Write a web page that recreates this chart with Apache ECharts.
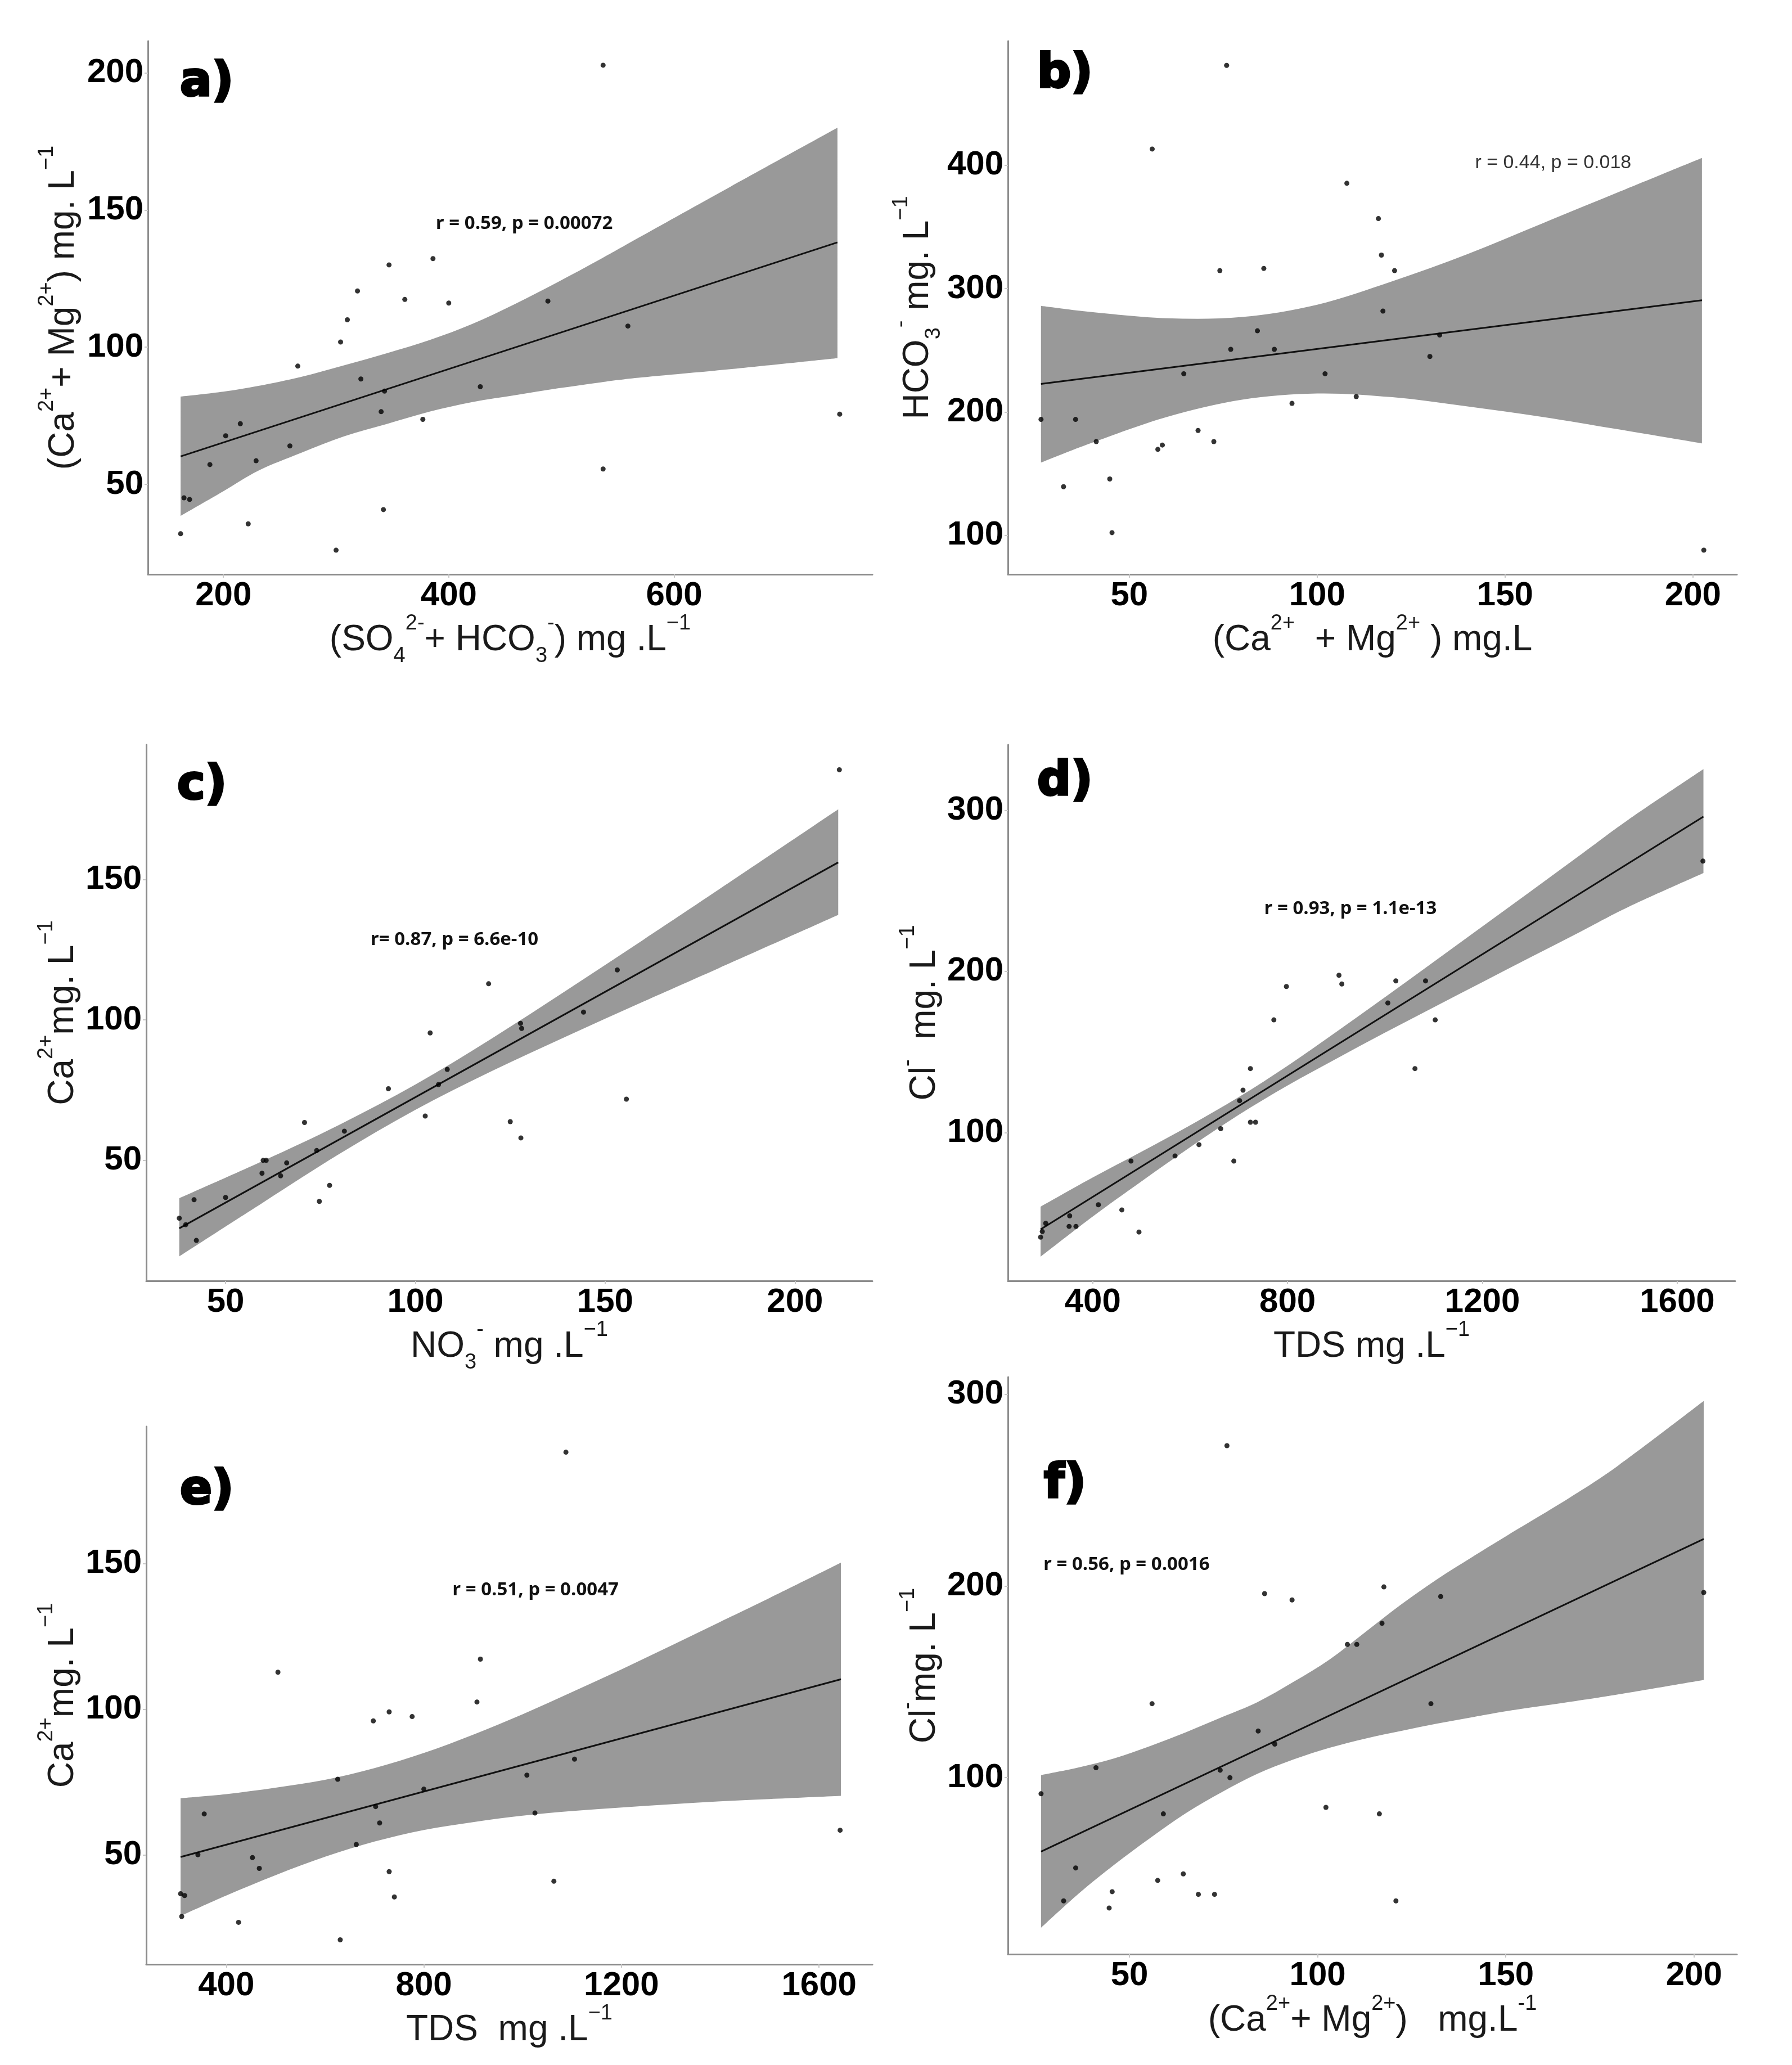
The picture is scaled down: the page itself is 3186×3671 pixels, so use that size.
<!DOCTYPE html>
<html>
<head>
  <meta charset="UTF-8">
  <title>Hydrochemistry scatter panels</title>
  <style>
    html, body { margin: 0; padding: 0; background: #fff; }
    #chart { width: 3186px; height: 3671px; }
  </style>
  <script src="https://cdn.jsdelivr.net/npm/echarts/dist/echarts.min.js"></script>
</head>
<body>
  <div id="chart"></div>
  <script>
    // ---- panel a : (SO4 + HCO3) vs (Ca + Mg)
    var aX = [537, 386, 347, 319, 361, 400, 488, 310, 559, 304, 266, 322, 428, 343, 340, 377, 747, 215, 202, 259, 188, 229, 537, 165, 170, 342, 222, 162, 300];
    var aY = [202.8, 132.3, 130, 120.5, 117.4, 116.1, 116.8, 110, 107.7, 101.9, 93.1, 88.4, 85.6, 84, 76.5, 73.7, 75.6, 72.1, 67.7, 64, 57.2, 58.6, 55.6, 45.1, 44.5, 40.8, 35.6, 32, 26];
    var aFitX = [162, 745];
    var aFitY = [60.2, 138.2];
    var aBandX = [162, 200, 231, 269, 307, 345, 383, 421, 459, 497, 535, 572, 650, 745];
    var aBandUp = [82, 83.8, 85.9, 89.2, 93.4, 97.8, 102.6, 108.5, 115.8, 123.8, 132.2, 140.7, 158.5, 180];
    var aBandLo = [38.5, 47.5, 55, 61.5, 67.5, 72, 76.5, 80, 82.5, 85, 87.2, 89, 92, 96];

    // ---- panel b : (Ca + Mg) vs HCO3
    var bX = [75.9, 56.1, 107.9, 116.3, 117.1, 74.1, 85.8, 120.6, 117.5, 84.1, 77, 88.6, 132.6, 130, 64.5, 102.1, 110.4, 93.3, 26.5, 35.7, 68.3, 41.2, 72.5, 57.6, 58.8, 44.8, 32.5, 45.4, 202.9];
    var bY = [481, 413.2, 385.4, 356.8, 327.2, 314.6, 316.4, 314.6, 281.8, 265.8, 250.8, 250.8, 262.4, 245, 231, 231, 212.5, 207, 194, 194, 185, 176, 176, 169.7, 173.2, 145.7, 139.4, 102.2, 88];
    var bFitX = [26.5, 202.4];
    var bFitY = [222.8, 290.6];
    var bBandX = [26.5, 40, 60, 80, 100, 120, 140, 160, 180, 202.4];
    var bBandUp = [286, 281, 276, 277, 287, 306, 328, 353, 378, 406];
    var bBandLo = [159, 175, 196, 210, 215, 212, 204.5, 196, 186, 174.5];

    // ---- panel c : NO3 vs Ca
    var cX = [211.7, 153.2, 119.3, 144.3, 127.7, 128, 103.9, 108.4, 106.1, 92.9, 155.6, 102.6, 70.8, 125, 81.3, 127.8, 74, 59.9, 60.7, 66.1, 59.6, 64.5, 77.4, 50, 41.7, 74.7, 37.8, 39.5, 42.3];
    var cY = [189.1, 117.8, 112.9, 102.8, 98.8, 97, 95.4, 82.4, 77, 75.5, 71.8, 65.8, 63.5, 63.8, 60.4, 58, 53.5, 50, 50, 49.1, 45.4, 44.5, 41.1, 36.8, 36, 35.4, 29.4, 27.1, 21.5];
    var cFitX = [37.8, 211.4];
    var cFitY = [25.8, 156.1];
    var cBandX = [37.8, 60, 80, 100, 120, 140, 160, 180, 211.4];
    var cBandUp = [36.5, 49.9, 62.7, 77, 93.3, 110.7, 128.5, 146.5, 175];
    var cBandLo = [15.8, 35.1, 52.3, 68, 81.7, 94.3, 106.5, 118.5, 137.4];

    // ---- panel d : TDS vs Cl
    var dX = [1652.8, 905.6, 911.4, 797.7, 1022.3, 1083.3, 1005.9, 771.9, 1103.2, 723.8, 1061.6, 708.6, 701.6, 723.8, 734.3, 662.8, 618.2, 569, 478.6, 689.7, 411.7, 459.8, 352.8, 303.6, 351.6, 365.7, 495, 296.5, 293];
    var dY = [268.4, 197.6, 192.2, 190.6, 194.1, 194.1, 180.4, 169.9, 169.9, 139.7, 139.7, 126.3, 119.8, 106.4, 106.4, 102.4, 92.5, 85.5, 82.3, 82.3, 55.2, 52, 48.3, 43.7, 41.8, 41.8, 38.3, 38.6, 35.1];
    var dFitX = [293, 1653.8];
    var dFitY = [39.9, 296];
    var dBandX = [293, 400, 500, 600, 700, 800, 900, 1000, 1100, 1200, 1300, 1400, 1500, 1653.8];
    var dBandUp = [54, 72.1, 88.1, 104.5, 122, 141.4, 162.4, 184, 205.9, 227.9, 249.9, 272, 294.2, 325.5];
    var dBandLo = [23, 47.9, 69.7, 90.9, 111, 129.2, 145.8, 162, 177.7, 193.3, 208.9, 224.4, 240, 261];

    // ---- panel e : TDS vs Ca
    var eX = [1087.6, 914.5, 504.6, 907.5, 729.8, 776.3, 697.7, 1105, 1008.6, 625.6, 800, 702.4, 710.5, 1024.9, 355.4, 1642.7, 663.2, 342.6, 453, 466.9, 729.8, 1063.2, 307.5, 315.7, 740.3, 309.8, 424.9, 630.7];
    var eY = [188.2, 117.2, 112.7, 102.5, 99.1, 97.5, 96, 82.9, 77.4, 76, 72.6, 66.6, 61, 64.4, 64.1, 58.5, 53.6, 50.1, 49.1, 45.4, 44.3, 41, 36.7, 36.1, 35.6, 28.9, 26.9, 20.9];
    var eFitX = [307.5, 1644.3];
    var eFitY = [49.3, 110.3];
    var eBandX = [307.5, 400, 500, 600, 700, 800, 900, 1000, 1100, 1200, 1300, 1400, 1500, 1644.3];
    var eBandUp = [69.5, 70.9, 73.1, 75.8, 79.8, 85, 91.3, 98.3, 105.9, 113.7, 121.8, 130, 138.2, 150.3];
    var eBandLo = [29.1, 36.1, 43.1, 49.4, 54.6, 58.6, 61.3, 63.5, 65.1, 66.3, 67.4, 68.4, 69.2, 70.3];

    // ---- panel f : (Ca + Mg) vs Cl
    var fX = [75.9, 117.6, 85.9, 93.2, 132.7, 202.6, 117.1, 107.9, 110.4, 56, 130.1, 84.2, 88.6, 74.1, 76.7, 41.1, 26.5, 102.2, 59, 116.4, 35.7, 64.3, 57.5, 45.4, 68.3, 72.6, 32.5, 44.6, 120.8];
    var fY = [273.2, 199.5, 196, 192.7, 194.5, 196.6, 180.5, 169.5, 169.5, 138.6, 138.6, 124.3, 117.5, 103.9, 100, 105.2, 91.6, 84.5, 81.1, 81.1, 52.9, 49.8, 46.4, 40.5, 39.1, 39.1, 35.7, 32, 35.7];
    var fFitX = [26.5, 202.6];
    var fFitY = [61.4, 224.5];
    var fBandX = [26.5, 36.5, 45.9, 55.5, 65, 74.6, 84, 93.6, 103.2, 112.7, 122.3, 131.8, 141.3, 150.9, 166.9, 180, 202.6];
    var fBandUp = [101.3, 105.3, 110, 116.5, 123.7, 131.6, 139.4, 150, 161.7, 176, 190.5, 203.6, 215.4, 227, 246, 263, 296.5];
    var fBandLo = [21.7, 39.5, 54.5, 68.5, 81.5, 92.5, 102, 109.5, 115.6, 120.4, 124.4, 128.2, 131.6, 134.9, 139.5, 143.5, 151];

    // tick labels per panel
    var xTicks = [[200, 400, 600], [50, 100, 150, 200], [50, 100, 150, 200], [400, 800, 1200, 1600], [400, 800, 1200, 1600], [50, 100, 150, 200]];
    var yTicks = [[50, 100, 150, 200], [100, 200, 300, 400], [50, 100, 150], [100, 200, 300], [50, 100, 150], [100, 200, 300]];

    // annotation text and where it sits (data units)
    var statText = ['r = 0.59, p = 0.00072', 'r = 0.44, p = 0.018', 'r= 0.87, p = 6.6e-10', 'r = 0.93, p = 1.1e-13', 'r = 0.51, p = 0.0047', 'r = 0.56, p = 0.0016'];
    var statPos = [[467, 145], [162.8, 402], [110.3, 128.5], [929, 239], [1026, 141], [27.1, 211]];
    var panelLetters = ['a)', 'b)', 'c)', 'd)', 'e)', 'f)'];

    var xNames = [
      '{n|(SO}{sb|4}{sp|2-}{n|+ HCO}{sb|3}{sp|-}{n|) mg .L}{sp|\u22121}',
      '{n|(Ca}{sp|2+}{n|  + Mg}{sp|2+}{n| ) mg.L}',
      '{n|NO}{sb|3}{sp|-}{n| mg .L}{sp|\u22121}',
      '{n|TDS mg .L}{sp|\u22121}',
      '{n|TDS  mg .L}{sp|\u22121}',
      '{n|(Ca}{sp|2+}{n|+ Mg}{sp|2+}{n|)   mg.L}{sp|-1}'
    ];
    var yNames = [
      '{n|(Ca}{sp|2+}{n|+ Mg}{sp|2+}{n|) mg. L}{sp|\u22121}',
      '{n|HCO}{sb|3}{sp|-}{n| mg. L}{sp|\u22121}',
      '{n|Ca}{sp|2+}{n|mg. L}{sp|\u22121}',
      '{n|Cl}{sp|-}{n|  mg. L}{sp|\u22121}',
      '{n|Ca}{sp|2+}{n|mg. L}{sp|\u22121}',
      '{n|Cl}{sp|-}{n|mg. L}{sp|\u22121}'
    ];

    var panels = [
      { x: aX, y: aY, fx: aFitX, fy: aFitY, bx: aBandX, bu: aBandUp, bl: aBandLo },
      { x: bX, y: bY, fx: bFitX, fy: bFitY, bx: bBandX, bu: bBandUp, bl: bBandLo },
      { x: cX, y: cY, fx: cFitX, fy: cFitY, bx: cBandX, bu: cBandUp, bl: cBandLo },
      { x: dX, y: dY, fx: dFitX, fy: dFitY, bx: dBandX, bu: dBandUp, bl: dBandLo },
      { x: eX, y: eY, fx: eFitX, fy: eFitY, bx: eBandX, bu: eBandUp, bl: eBandLo },
      { x: fX, y: fY, fx: fFitX, fy: fFitY, bx: fBandX, bu: fBandUp, bl: fBandLo }
    ];

    // layout (px) and axis extents
    var grids = [
      { left: 263, top: 73, width: 1288, height: 948 },
      { left: 1792, top: 73, width: 1296, height: 948 },
      { left: 260, top: 1324, width: 1291, height: 953 },
      { left: 1792, top: 1324, width: 1293, height: 953 },
      { left: 260, top: 2536, width: 1291, height: 956 },
      { left: 1792, top: 2448, width: 1296, height: 1026 }
    ];
    var xRange = [[133, 776], [17.7, 211.7], [29.1, 220.4], [226, 1719], [238, 1708], [17.7, 211.4]];
    var yRange = [[17.2, 211.6], [68.4, 500.7], [7.1, 198], [8, 340.6], [12.5, 197], [7.9, 309]];
    var xNameGap = [58, 60, 58, 58, 60, 70];
    var yNameGap = [102, 100, 100, 100, 100, 100];
    var letterPos = [[318, 104], [1842, 89], [313, 1354], [1842, 1347], [318, 2607], [1854, 2596]];

    var FONT = 'Liberation Sans, Arial, sans-serif';
    var nameRich = {
      n: { fontSize: 64, fontFamily: FONT, color: '#1a1a1a', lineHeight: 96 },
      sp: { fontSize: 38, fontFamily: FONT, color: '#1a1a1a', lineHeight: 40, verticalAlign: 'top' },
      sb: { fontSize: 38, fontFamily: FONT, color: '#1a1a1a', lineHeight: 40, verticalAlign: 'bottom' }
    };

    function pairs(xs, ys) {
      return xs.map(function (v, i) { return [v, ys[i]]; });
    }

    // Catmull-Rom through pixel points -> cubic bezier path commands
    function splineTo(pts) {
      var d = '';
      for (var i = 0; i < pts.length - 1; i++) {
        var p0 = pts[i - 1] || pts[i], p1 = pts[i], p2 = pts[i + 1], p3 = pts[i + 2] || pts[i + 1];
        var c1x = p1[0] + (p2[0] - p0[0]) / 6, c1y = p1[1] + (p2[1] - p0[1]) / 6;
        var c2x = p2[0] - (p3[0] - p1[0]) / 6, c2y = p2[1] - (p3[1] - p1[1]) / 6;
        d += ' C' + c1x + ' ' + c1y + ' ' + c2x + ' ' + c2y + ' ' + p2[0] + ' ' + p2[1];
      }
      return d;
    }

    var xAxes = [], yAxes = [], series = [], graphics = [];
    panels.forEach(function (p, i) {
      var labelStyle = {
        margin: 8, fontSize: 60, fontWeight: 'bold', fontFamily: FONT, color: '#000',
        formatter: function (v) { return String(v); }
      };
      xAxes.push({
        type: 'value', gridIndex: i, min: xRange[i][0], max: xRange[i][1],
        splitLine: { show: false },
        axisLine: { show: true, onZero: false, lineStyle: { color: '#8c8c8c', width: 3 } },
        axisTick: { show: true, customValues: xTicks[i], length: 6, lineStyle: { color: '#c8c8c8', width: 2 } },
        axisLabel: Object.assign({ customValues: xTicks[i] }, labelStyle),
        name: xNames[i], nameLocation: 'middle', nameGap: xNameGap[i],
        nameTextStyle: { rich: nameRich }
      });
      yAxes.push({
        type: 'value', gridIndex: i, min: yRange[i][0], max: yRange[i][1],
        splitLine: { show: false },
        axisLine: { show: true, onZero: false, lineStyle: { color: '#8c8c8c', width: 3 } },
        axisTick: { show: true, customValues: yTicks[i], length: 6, lineStyle: { color: '#c8c8c8', width: 2 } },
        axisLabel: Object.assign({ customValues: yTicks[i] }, labelStyle),
        name: yNames[i], nameLocation: 'middle', nameGap: yNameGap[i], nameRotate: 90,
        nameTextStyle: { rich: nameRich }
      });

      // confidence band
      series.push({
        type: 'custom', xAxisIndex: i, yAxisIndex: i, z: 1, clip: true, silent: true,
        data: [[p.bx[0], p.bl[0]]],
        renderItem: function (params, api) {
          var up = [], lo = [];
          for (var k = 0; k < p.bx.length; k++) {
            up.push(api.coord([p.bx[k], p.bu[k]]));
            lo.push(api.coord([p.bx[k], p.bl[k]]));
          }
          lo.reverse();
          var d = 'M' + up[0][0] + ' ' + up[0][1] + splineTo(up) +
            ' L' + lo[0][0] + ' ' + lo[0][1] + splineTo(lo) + ' Z';
          return { type: 'path', shape: { pathData: d }, style: { fill: '#999999' } };
        }
      });
      // fitted line
      series.push({
        type: 'line', xAxisIndex: i, yAxisIndex: i, z: 3, showSymbol: false, silent: true,
        data: pairs(p.fx, p.fy),
        lineStyle: { color: '#111', width: 3 }
      });
      // observations
      series.push({
        type: 'scatter', xAxisIndex: i, yAxisIndex: i, z: 4, symbolSize: 9,
        data: pairs(p.x, p.y),
        itemStyle: { color: '#000' }
      });
      // r / p annotation
      series.push({
        type: 'custom', xAxisIndex: i, yAxisIndex: i, z: 5, silent: true,
        data: [statPos[i]],
        renderItem: function (params, api) {
          var pt = api.coord([api.value(0), api.value(1)]);
          var isB = i === 1;
          return {
            type: 'text', x: pt[0], y: pt[1],
            style: {
              text: statText[i],
              fontFamily: isB ? 'Liberation Sans Narrow, Liberation Sans, sans-serif' : 'Open Sans, sans-serif',
              fontWeight: isB ? 'normal' : 'bold',
              fontSize: isB ? 34 : 33,
              fill: isB ? '#333' : '#111',
              align: i === 5 ? 'left' : 'center',
              verticalAlign: 'middle'
            }
          };
        }
      });

      graphics.push({
        type: 'text', left: letterPos[i][0], top: letterPos[i][1],
        style: {
          text: panelLetters[i], fontFamily: 'DejaVu Sans, sans-serif', fontWeight: 'bold',
          fontSize: 84, fill: '#000', stroke: '#000', lineWidth: 4
        }
      });
    });

    var chart = echarts.init(document.getElementById('chart'));
    chart.setOption({
      animation: false,
      backgroundColor: '#fff',
      grid: grids,
      xAxis: xAxes,
      yAxis: yAxes,
      series: series,
      graphic: graphics
    });
  </script>
</body>
</html>
